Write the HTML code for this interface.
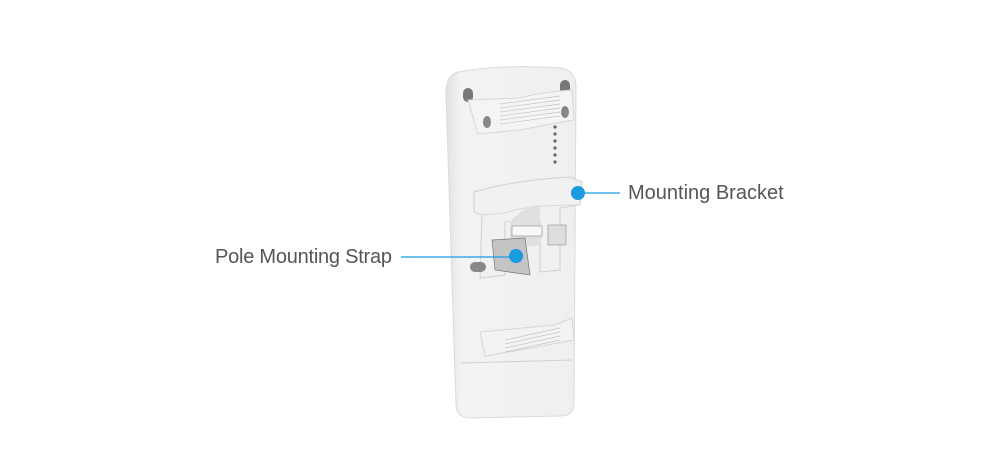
<!DOCTYPE html>
<html><head><style>
html,body{margin:0;padding:0;background:#fff;}
svg{display:block}
text{font-family:"Liberation Sans",sans-serif;font-size:20px;fill:#555}
</style></head><body>
<svg width="1000" height="458" viewBox="0 0 1000 458">
<defs>
<linearGradient id="b" x1="0" x2="1"><stop offset="0" stop-color="#e2e2e2"/><stop offset="0.12" stop-color="#f3f3f3"/><stop offset="1" stop-color="#efefef"/></linearGradient>
</defs>
<path d="M458 72 Q500 64 560 68 Q575 70 576 85 L574 405 Q573 416 560 416 L470 418 Q457 418 456 405 L446 95 Q445 76 458 72 Z" fill="url(#b)" stroke="#dadada"/>
<line x1="461" y1="363" x2="572" y2="360" stroke="#d0d0d0"/>
<rect x="463" y="88" width="10" height="14" rx="5" fill="#777"/>
<rect x="560" y="80" width="10" height="14" rx="5" fill="#777"/>
<path d="M468 100 L520 98 Q540 92 572 90 L574 120 L545 125 L520 130 L478 134 Z" fill="#f4f4f4" stroke="#d6d6d6"/>
<g stroke="#c4c4c4" stroke-width="0.7">
<line x1="500" y1="104" x2="560" y2="96"/><line x1="500" y1="108" x2="560" y2="100"/><line x1="500" y1="112" x2="560" y2="104"/><line x1="500" y1="116" x2="560" y2="108"/><line x1="500" y1="120" x2="560" y2="112"/><line x1="500" y1="124" x2="560" y2="116"/>
</g>
<ellipse cx="487" cy="122" rx="4" ry="6" fill="#888"/>
<ellipse cx="565" cy="112" rx="4" ry="6" fill="#888"/>
<g fill="#666"><circle cx="555" cy="127" r="1.6"/><circle cx="555" cy="134" r="1.6"/><circle cx="555" cy="141" r="1.6"/><circle cx="555" cy="148" r="1.6"/><circle cx="555" cy="155" r="1.6"/><circle cx="555" cy="162" r="1.6"/></g>
<path d="M474 192 Q515 180 570 177 L582 182 L580 205 L560 208 L560 270 L540 272 L540 220 L505 222 L505 275 L480 278 L482 215 L474 212 Z" fill="#f1f1f1" stroke="#d0d0d0"/>
<path d="M474 212 L482 215 L505 213 Q525 205 580 205" fill="none" stroke="#d8d8d8"/>
<path d="M510 222 Q525 205 540 205 L540 245 L510 248 Z" fill="#e0e0e0"/>
<rect x="512" y="226" width="30" height="10" fill="#f8f8f8" stroke="#999" stroke-width="0.7"/>
<rect x="548" y="225" width="18" height="20" fill="#ddd" stroke="#999" stroke-width="0.7"/>
<path d="M492 240 L525 238 L530 275 L495 270 Z" fill="#c4c4c4" stroke="#777" stroke-width="0.7"/>
<rect x="470" y="262" width="16" height="10" rx="5" fill="#888"/>
<path d="M480 332 L555 325 L572 318 L574 340 L520 350 L485 356 Z" fill="#f3f3f3" stroke="#d6d6d6"/>
<g stroke="#c4c4c4" stroke-width="0.7">
<line x1="505" y1="340" x2="560" y2="328"/><line x1="505" y1="344" x2="560" y2="332"/><line x1="505" y1="348" x2="560" y2="336"/><line x1="505" y1="352" x2="560" y2="340"/>
</g>
<line x1="578" y1="193" x2="620" y2="193" stroke="#1a9be0" stroke-width="1.3"/>
<circle cx="578" cy="193" r="7" fill="#1a9be0"/>
<text x="628" y="199">Mounting Bracket</text>
<line x1="401" y1="257" x2="516" y2="257" stroke="#1a9be0" stroke-width="1.3"/>
<circle cx="516" cy="256" r="7" fill="#1a9be0"/>
<text x="215" y="263" textLength="177">Pole Mounting Strap</text>
</svg>
</body></html>
